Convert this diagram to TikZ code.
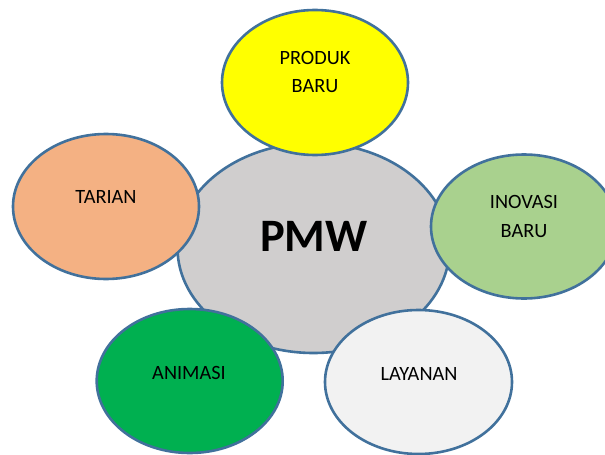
\documentclass[tikz,border=0pt]{standalone}
\usepackage{fontspec}
\setmainfont{Carlito}
\usetikzlibrary{shapes.geometric}
\definecolor{edgeblue}{HTML}{41719C}
\definecolor{cgrey}{HTML}{D0CECE}
\definecolor{cyellow}{HTML}{FFFF00}
\definecolor{corange}{HTML}{F4B183}
\definecolor{clgreen}{HTML}{A9D18E}
\definecolor{cgreen}{HTML}{00B050}
\definecolor{cwhite}{HTML}{F2F2F2}
\tikzset{
  bubble/.style={ellipse, draw=edgeblue, line width=2.6pt, inner sep=0pt},
  lbl/.style={anchor=base, inner sep=0pt, font=\fontsize{20.3}{28}\selectfont, text=black},
}
\begin{document}
\begin{tikzpicture}[x=1pt,y=-1pt]
\useasboundingbox (0,0) rectangle (605,455);
\node[bubble, fill=cgrey, minimum width=272pt, minimum height=210pt] (pmw) at (313.5,248) {};
\node[bubble, fill=cyellow, minimum width=186pt, minimum height=145pt] (produk) at (315,82.5) {};
\node[bubble, fill=corange, minimum width=186pt, minimum height=145pt] (tarian) at (106,206.5) {};
\node[bubble, fill=clgreen, minimum width=186pt, minimum height=144pt] (inovasi) at (524,226.5) {};
\node[bubble, fill=cgreen, minimum width=186pt, minimum height=144pt] (animasi) at (189.7,381) {};
\node[bubble, fill=cwhite, minimum width=187pt, minimum height=144pt] (layanan) at (418.5,382) {};
\node[anchor=base, inner sep=0pt, font=\fontsize{46.5}{46}\bfseries] (tpmw) at (314,251.7) {PMW};
\node[lbl] (tprod1) at (315,64.3) {PRODUK};
\node[lbl] (tprod2) at (315,92) {BARU};
\node[lbl] (ttar) at (106,203) {TARIAN};
\node[lbl] (tino1) at (524,208.3) {INOVASI};
\node[lbl] (tino2) at (524,237.3) {BARU};
\node[lbl] (tani) at (189,379.3) {ANIMASI};
\node[lbl] (tlay) at (419,380) {LAYANAN};
\end{tikzpicture}
\end{document}
